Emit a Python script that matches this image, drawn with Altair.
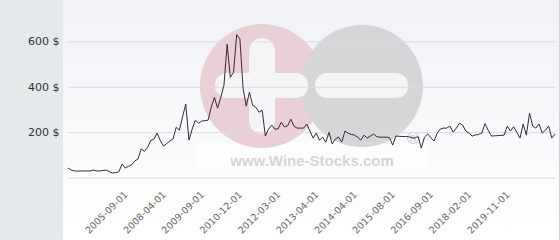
import altair as alt
import pandas as pd

# ---- data ----
values = [
    44, 35, 31, 31, 31, 31, 31, 31, 35, 31,
    31, 33, 35, 28, 22, 24, 28, 62, 44, 52,
    58, 75, 84, 128, 118, 135, 165, 172, 198, 165,
    141, 152, 163, 172, 224, 211, 270, 326, 167, 215,
    255, 242, 251, 253, 255, 312, 356, 308, 356, 409,
    590, 444, 466, 632, 614, 396, 317, 378, 321, 312,
    290, 299, 185, 215, 233, 216, 216, 246, 225, 230,
    260, 228, 220, 220, 220, 238, 207, 176, 198, 167,
    180, 158, 202, 150, 172, 180, 158, 207, 198, 192,
    189, 180, 167, 189, 176, 185, 194, 182, 180, 180,
    180, 178, 145, 185, 184, 183, 183, 182, 178, 176,
    183, 132, 180, 194, 178, 163, 198, 216, 220, 220,
    229, 202, 220, 242, 233, 207, 198, 185, 190, 192,
    198, 240, 211, 185, 186, 187, 188, 189, 229, 207,
    226, 202, 176, 238, 189, 286, 229, 220, 238, 198,
    211, 229, 176, 194,
]
tick_labels = ["2005-09-01", "2008-04-01", "2009-09-01", "2010-12-01", "2012-03-01",
               "2013-04-01", "2014-04-01", "2015-08-01", "2016-09-01", "2018-02-01",
               "2019-11-01"]
tick_index = [17, 29, 41, 53, 65, 77, 89, 101, 113, 125, 137]
y_ticks = [200, 400, 600]
grid_values = [0, 200, 400, 600]

df = pd.DataFrame({"i": list(range(len(values))), "v": values})
grid_df = pd.DataFrame({"v": grid_values})
one = pd.DataFrame({"a": [0]})

W, H = 487, 178
xscale = alt.Scale(domain=[0, len(values) - 1], nice=False, zero=False)
yscale = alt.Scale(domain=[0, 785], nice=False)

labels_js = "[" + ",".join("'%s'" % s for s in tick_labels) + "]"
x_axis = alt.Axis(values=tick_index, labelExpr=labels_js + "[(datum.value-17)/12]",
                  labelAngle=-45, grid=False, domain=False, ticks=False, title=None,
                  labelFont="DejaVu Sans", labelFontSize=9.5, labelColor="#666666",
                  labelPadding=11, zindex=2, labelOverlap=False)
y_axis = alt.Axis(values=y_ticks, labelExpr="datum.value + ' $'", grid=False, domain=False,
                  ticks=False, title=None, labelFont="DejaVu Sans", labelFontSize=11,
                  labelColor="#333333", labelPadding=9, zindex=2)

# background panel with gradient
bg = alt.Chart(one).mark_rect(
    color=alt.Gradient(gradient="linear",
                       stops=[alt.GradientStop(color="#f1f2f6", offset=0),
                              alt.GradientStop(color="#ffffff", offset=1)],
                       x1=0, x2=0, y1=0, y2=1)
).encode(x=alt.value(-5), x2=alt.value(491), y=alt.value(0), y2=alt.value(240))
edge = alt.Chart(one).mark_rule(color="#cfd2d6").encode(
    x=alt.value(491.5), y=alt.value(0), y2=alt.value(240))

# watermark (decoration)
wm_box = alt.Chart(one).mark_rect(color="#ffffff", opacity=0.55).encode(
    x=alt.value(129), x2=alt.value(359), y=alt.value(142), y2=alt.value(174))
pink = alt.Chart(one).mark_point(filled=True, shape="circle", color="#e9cfd6", opacity=1).encode(
    x=alt.value(194), y=alt.value(86), size=alt.value(15376))
grey = alt.Chart(one).mark_point(filled=True, shape="circle", color="#d6d6d8", opacity=1).encode(
    x=alt.value(294), y=alt.value(86), size=alt.value(14884))
bar_v = alt.Chart(one).mark_rect(color="#f5f5f8", cornerRadius=13).encode(
    x=alt.value(181), x2=alt.value(207), y=alt.value(38), y2=alt.value(134))
bar_h = alt.Chart(one).mark_rect(color="#f5f5f8", cornerRadius=12).encode(
    x=alt.value(147), x2=alt.value(240), y=alt.value(73), y2=alt.value(98))
bar_m = alt.Chart(one).mark_rect(color="#f5f5f8", cornerRadius=12).encode(
    x=alt.value(247), x2=alt.value(340), y=alt.value(73), y2=alt.value(98))
wm_text = alt.Chart(one).mark_text(text="www.Wine-Stocks.com", font="Liberation Sans",
                                   fontWeight="bold", fontSize=15, color="#d4d4d6",
                                   align="center", baseline="alphabetic").encode(
    x=alt.value(244), y=alt.value(166))
wm_r = alt.Chart(one).mark_text(text="®", font="DejaVu Sans", fontSize=16, color="#cfcfd2",
                                align="center", baseline="middle").encode(
    x=alt.value(345), y=alt.value(139))

grid = alt.Chart(grid_df).mark_rule(color="#dcdcdf", strokeWidth=1).encode(
    y=alt.Y("v:Q", scale=yscale, axis=y_axis), x=alt.value(0), x2=alt.value(W))

line = alt.Chart(df).mark_line(color="#3b2833", strokeWidth=1).encode(
    x=alt.X("i:Q", scale=xscale, axis=x_axis),
    y=alt.Y("v:Q", scale=yscale, axis=y_axis),
)

chart = alt.layer(bg, edge, wm_box, pink, grey, bar_v, bar_h, bar_m, wm_text, wm_r, grid, line).properties(
    width=W, height=H,
    autosize=alt.AutoSizeParams(type="none"),
    padding={"left": 68, "top": 0, "right": 5, "bottom": 62},
    background="#e6e9ec",
).configure_view(stroke=None)

chart.save("out.html", embed_options={"renderer": "svg", "actions": False})
